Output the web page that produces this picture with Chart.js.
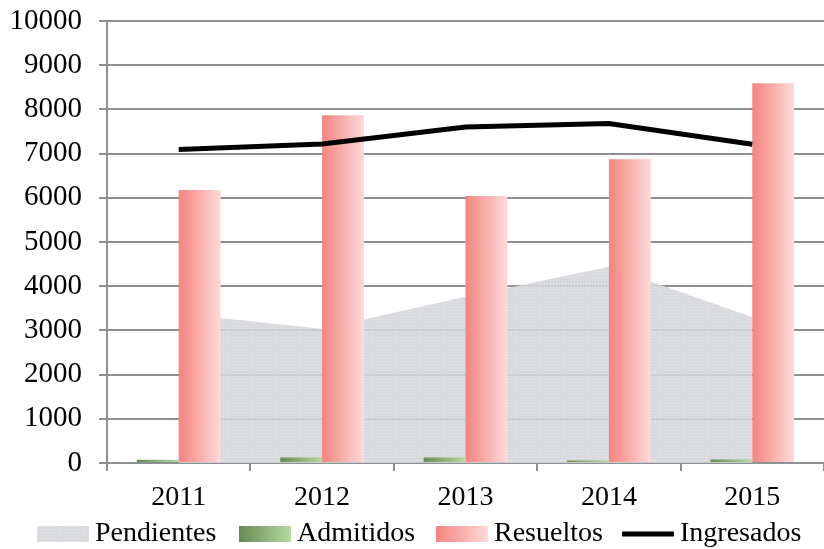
<!DOCTYPE html>
<html><head><meta charset="utf-8">
<script src="https://cdn.jsdelivr.net/npm/chart.js@4"></script>
<style>html,body{margin:0;padding:0;background:#fff}#wrap{width:824px;height:549px}</style>
</head><body><div id="wrap"><canvas id="c" width="824" height="549"></canvas></div>
<script>
const categories = ['2011', '2012', '2013', '2014', '2015'];
const pendientes = [3380, 3040, 3760, 4440, 3300];
const admitidos = [75, 125, 125, 55, 80];
const resueltos = [6175, 7870, 6040, 6875, 8590];
const ingresados = [7095, 7215, 7600, 7680, 7210];
const seriesNames = ['Pendientes', 'Admitidos', 'Resueltos', 'Ingresados'];
const yMin = 0, yMax = 10000, yStep = 1000;

const FONT = '"Liberation Serif", "Times New Roman", serif';
const gridColor = '#8d9095';
const canvas = document.getElementById('c');
const mainCtx = canvas.getContext('2d');

function makePattern() {
  const p = document.createElement('canvas');
  p.width = 3; p.height = 3;
  const g = p.getContext('2d');
  g.fillStyle = 'rgba(211,213,216,0.88)';
  g.fillRect(0, 0, 3, 3);
  g.fillStyle = 'rgba(232,233,235,0.9)';
  g.fillRect(1, 1, 1, 1);
  return mainCtx.createPattern(p, 'repeat');
}
const areaPattern = makePattern();

const gradPlugin = {
  id: 'barGrad',
  beforeDatasetsDraw(chart) {
    const ctx = chart.ctx;
    chart.data.datasets.forEach((ds, i) => {
      if (ds.type !== 'bar') return;
      const meta = chart.getDatasetMeta(i);
      meta.data.forEach(el => {
        const l = el.x - el.width / 2, r = el.x + el.width / 2;
        const g = ctx.createLinearGradient(l, 0, r, 0);
        g.addColorStop(0, ds.gradFrom);
        g.addColorStop(1, ds.gradTo);
        el.options = Object.assign({}, el.options, { backgroundColor: g });
      });
    });
  }
};

const legendPlugin = {
  id: 'customLegend',
  afterDraw(chart) {
    const ctx = chart.ctx;
    const boxX = [37, 239, 436, 622];
    const boxW = 52, boxTop = 526, boxH = 16, baseline = 541;
    ctx.save();
    ctx.font = '28px ' + FONT;
    ctx.textBaseline = 'alphabetic';
    chart.data.datasets.forEach((ds, i) => {
      const x = boxX[i];
      if (i === 0) {
        ctx.fillStyle = areaPattern;
        ctx.fillRect(x, boxTop, boxW, boxH);
      } else if (ds.type === 'bar') {
        const g = ctx.createLinearGradient(x, 0, x + boxW, 0);
        g.addColorStop(0, ds.gradFrom);
        g.addColorStop(1, ds.gradTo);
        ctx.fillStyle = g;
        ctx.fillRect(x, boxTop, boxW, boxH);
      } else {
        ctx.fillStyle = '#000';
        ctx.fillRect(x, boxTop + boxH / 2 - 2.5, boxW, 5);
      }
      ctx.fillStyle = '#000';
      ctx.fillText(ds.label, x + boxW + 6, baseline);
    });
    ctx.restore();
  }
};

new Chart(mainCtx, {
  data: {
    labels: categories,
    datasets: [
      { type: 'line', label: seriesNames[0], data: pendientes, fill: 'origin',
        backgroundColor: areaPattern, borderColor: 'rgba(0,0,0,0)', borderWidth: 0,
        pointRadius: 0, tension: 0, order: 3 },
      { type: 'bar', label: seriesNames[1], data: admitidos, backgroundColor: '#8fb47a',
        gradFrom: '#688a53', gradTo: '#b5d99f', barPercentage: 1, categoryPercentage: 0.584, order: 2 },
      { type: 'bar', label: seriesNames[2], data: resueltos, backgroundColor: '#f8a8a4',
        gradFrom: '#f4847e', gradTo: '#fddad8', barPercentage: 1, categoryPercentage: 0.584, order: 2 },
      { type: 'line', label: seriesNames[3], data: ingresados, borderColor: '#000',
        backgroundColor: '#000', borderWidth: 5, pointRadius: 0, fill: false, tension: 0, order: 1 }
    ]
  },
  options: {
    responsive: false,
    animation: false,
    layout: { padding: { left: 12, right: 0, top: 21, bottom: 38 } },
    plugins: { legend: { display: false }, tooltip: { enabled: false } },
    scales: {
      x: {
        offset: true,
        grid: { offset: true, drawOnChartArea: false, drawTicks: true, tickLength: 8, color: gridColor, lineWidth: 2 },
        border: { color: gridColor, width: 2 },
        ticks: { font: { family: FONT, size: 28 }, color: '#000', padding: 10 },
        afterFit(scale) { scale.height = 48; scale.paddingLeft = 0; scale.paddingRight = 0; }
      },
      y: {
        min: yMin, max: yMax,
        grid: { color: gridColor, lineWidth: 2, tickLength: 8 },
        border: { color: gridColor, width: 2 },
        ticks: { stepSize: yStep, font: { family: FONT, size: 29 }, color: '#000', padding: 17,
                 callback: v => String(v) },
        afterFit(scale) { scale.width = 95; scale.paddingTop = 0; scale.paddingBottom = 0; }
      }
    }
  },
  plugins: [gradPlugin, legendPlugin]
});
</script>
</body></html>
